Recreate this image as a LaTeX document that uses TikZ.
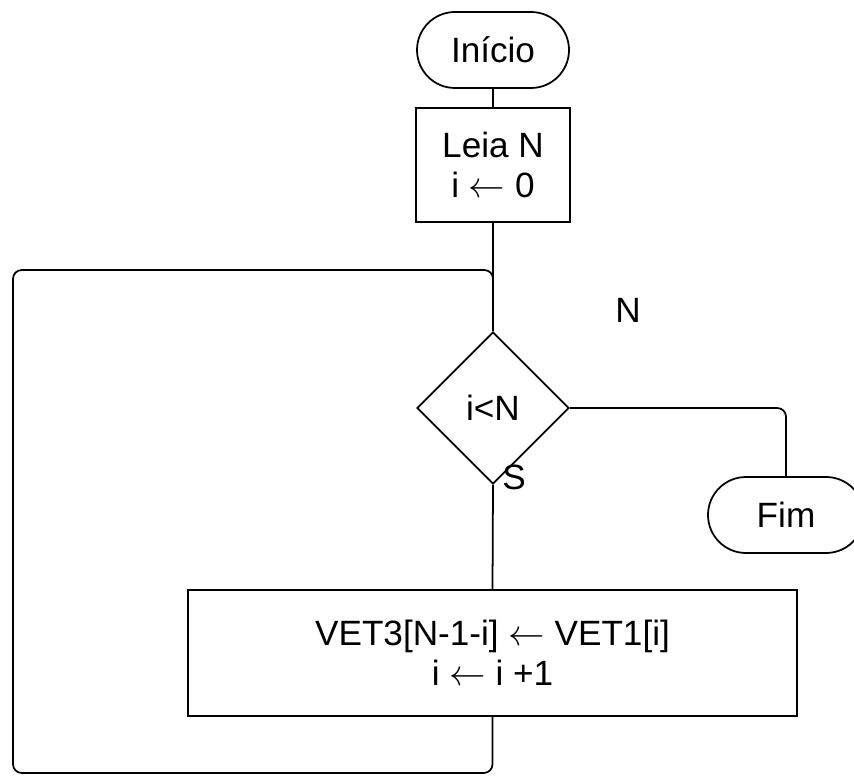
\documentclass[tikz,border=0pt]{standalone}
\usepackage{fontspec}
\setmainfont{Liberation Sans}
\usetikzlibrary{shapes.geometric,shapes.misc}

\newcommand{\recebe}{\ensuremath{\leftarrow}}

\begin{document}
\begin{tikzpicture}[x=0.02cm,y=-0.02cm,line width=1pt,
    terminal/.style={draw,rounded rectangle,minimum width=152*0.02cm,minimum height=76*0.02cm,inner sep=0pt},
    processo/.style={draw,rectangle,align=center,inner sep=0pt},
    decisao/.style={draw,diamond,minimum width=152*0.02cm,minimum height=152*0.02cm,inner sep=0pt,aspect=1},
    rotulo/.style={inner sep=0pt}]
            \useasboundingbox (0,0) rectangle (854,776);
            \fontsize{20}{23}\selectfont

            \node[terminal] (inicio) at (493,50) {Início};
            \node[processo,minimum width=154*0.02cm,minimum height=114*0.02cm] (leia) at (493,165) {Leia N\\i \recebe{} 0};
            \node[decisao] (cond) at (493,408) {i<N};
            \node[terminal,minimum width=156*0.02cm] (fim) at (786,515) {Fim};
            \node[processo,minimum width=609*0.02cm,minimum height=126*0.02cm] (corpo) at (492.5,653) {VET3[N-1-i] \recebe{} VET1[i]\\i \recebe{} i +1};
            \node[rotulo] (rotN) at (628,310) {N};
            \node[rotulo] (rotS) at (514,477) {S};

            \coordinate (baixo) at (13,773);
            \coordinate (alto) at (13,270);
            \coordinate (juncao) at (493,270);

            \draw (inicio)--(leia);
            \draw (leia)--(cond);
            \draw[rounded corners=5pt] (cond.east)-|(fim.north);
            \draw (cond.south)--(corpo.north);
            \draw[rounded corners=5pt] (corpo.south)|-(baixo)--(alto)--(juncao)--(cond.north);
        \end{tikzpicture}
\end{document}
